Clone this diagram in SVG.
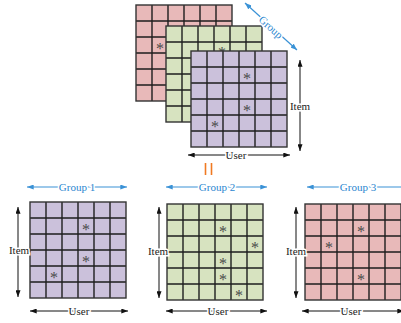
<svg xmlns="http://www.w3.org/2000/svg" xmlns:xlink="http://www.w3.org/1999/xlink" width="401" height="323" viewBox="0 0 401 323">
<style>
.purple{fill:#cbc1db}
.green{fill:#d7e3c0}
.red{fill:#e8b9b9}
.grid{fill:none;stroke:#1e1e1e;stroke-width:1.4}
.border{fill:none;stroke:#333;stroke-width:1.4}
.ast{font-family:"Liberation Serif",serif;font-size:16px;fill:#4a4a4a;text-anchor:middle}
.lbl{font-family:"Liberation Serif",serif;font-size:11px;fill:#222;text-anchor:middle;stroke:#fff;stroke-width:3;paint-order:stroke}
.blbl{font-family:"Liberation Serif",serif;font-size:11px;fill:#2a86cf;text-anchor:middle;stroke:#fff;stroke-width:3;paint-order:stroke}
.blk{stroke:#111;stroke-width:1;fill:none;marker-start:url(#ah);marker-end:url(#ah)}
.blu{stroke:#3a92d6;stroke-width:1.2;fill:none;marker-start:url(#bh);marker-end:url(#bh)}
.eq{stroke:#f07a22;stroke-width:1.6}
</style>
<defs>
<marker id="ah" viewBox="0 0 8 6" refX="8" refY="3" markerWidth="7" markerHeight="5" markerUnits="userSpaceOnUse" orient="auto-start-reverse"><path d="M0,0 L8,3 L0,6 z" fill="#111"/></marker>
<marker id="bh" viewBox="0 0 8 6" refX="8" refY="3" markerWidth="7" markerHeight="5" markerUnits="userSpaceOnUse" orient="auto-start-reverse"><path d="M0,0 L8,3 L0,6 z" fill="#3a92d6"/></marker>
<g id="gridlines">
<path class="grid" d="M16,0V96M32,0V96M48,0V96M64,0V96M80,0V96M0,16H96M0,32H96M0,48H96M0,64H96M0,80H96"/>
<rect class="border" x="0" y="0" width="96" height="96"/>
</g>
</defs>

<g id="stack-red" transform="translate(136,5)">
<rect class="red" width="96" height="96"/>
<use xlink:href="#gridlines"/>
<text class="ast" x="24" y="48.5">*</text>
</g>
<g id="stack-green" transform="translate(166,26)">
<rect class="green" width="96" height="96"/>
<use xlink:href="#gridlines"/>
<text class="ast" x="56" y="32">*</text>
</g>
<g id="stack-purple" transform="translate(191,51)">
<rect class="purple" width="96" height="96"/>
<use xlink:href="#gridlines"/>
<text class="ast" x="56" y="32.5">*</text>
<text class="ast" x="56" y="64.5">*</text>
<text class="ast" x="24" y="80.5">*</text>
</g>

<g id="group1" transform="translate(30,202)">
<rect class="purple" width="96" height="96"/>
<use xlink:href="#gridlines"/>
<text class="ast" x="56" y="32.5">*</text>
<text class="ast" x="56" y="64.5">*</text>
<text class="ast" x="24" y="80.5">*</text>
</g>
<g id="group2" transform="translate(167,204)">
<rect class="green" width="96" height="96"/>
<use xlink:href="#gridlines"/>
<text class="ast" x="56" y="32.5">*</text>
<text class="ast" x="88" y="48.5">*</text>
<text class="ast" x="56" y="64.5">*</text>
<text class="ast" x="56" y="80.5">*</text>
<text class="ast" x="72" y="96.5">*</text>
</g>
<g id="group3" transform="translate(305,204)">
<rect class="red" width="96" height="96"/>
<use xlink:href="#gridlines"/>
<text class="ast" x="56" y="32.5">*</text>
<text class="ast" x="24" y="48.5">*</text>
<text class="ast" x="56" y="80.5">*</text>
</g>

<g id="connectors">
<line class="blu" x1="245" y1="3" x2="297" y2="50"/>
<text class="blbl" transform="translate(271,27) rotate(42)" y="4">Group</text>
<line class="blk" x1="300" y1="60" x2="300" y2="151"/>
<text class="lbl" x="300" y="110">Item</text>
<line class="blk" x1="188" y1="155" x2="290" y2="155"/>
<text class="lbl" x="236" y="159">User</text>
<line class="eq" x1="205.5" y1="163" x2="205.5" y2="175"/>
<line class="eq" x1="211.5" y1="163" x2="211.5" y2="175"/>

<line class="blu" x1="27" y1="187" x2="127" y2="187"/>
<text class="blbl" x="77" y="191">Group 1</text>
<line class="blk" x1="18" y1="207" x2="18" y2="297"/>
<text class="lbl" x="19" y="254">Item</text>
<line class="blk" x1="30" y1="311" x2="128" y2="311"/>
<text class="lbl" x="79" y="315">User</text>

<line class="blu" x1="166" y1="187" x2="267" y2="187"/>
<text class="blbl" x="217" y="191">Group 2</text>
<line class="blk" x1="159" y1="207" x2="159" y2="298"/>
<text class="lbl" x="158" y="255">Item</text>
<line class="blk" x1="166" y1="311" x2="267" y2="311"/>
<text class="lbl" x="218" y="315">User</text>

<line class="blu" x1="307" y1="187" x2="408" y2="187"/>
<text class="blbl" x="358" y="191">Group 3</text>
<line class="blk" x1="296" y1="207" x2="296" y2="298"/>
<text class="lbl" x="296" y="255">Item</text>
<line class="blk" x1="302" y1="311" x2="404" y2="311"/>
<text class="lbl" x="351" y="315">User</text>
</g>
</svg>
